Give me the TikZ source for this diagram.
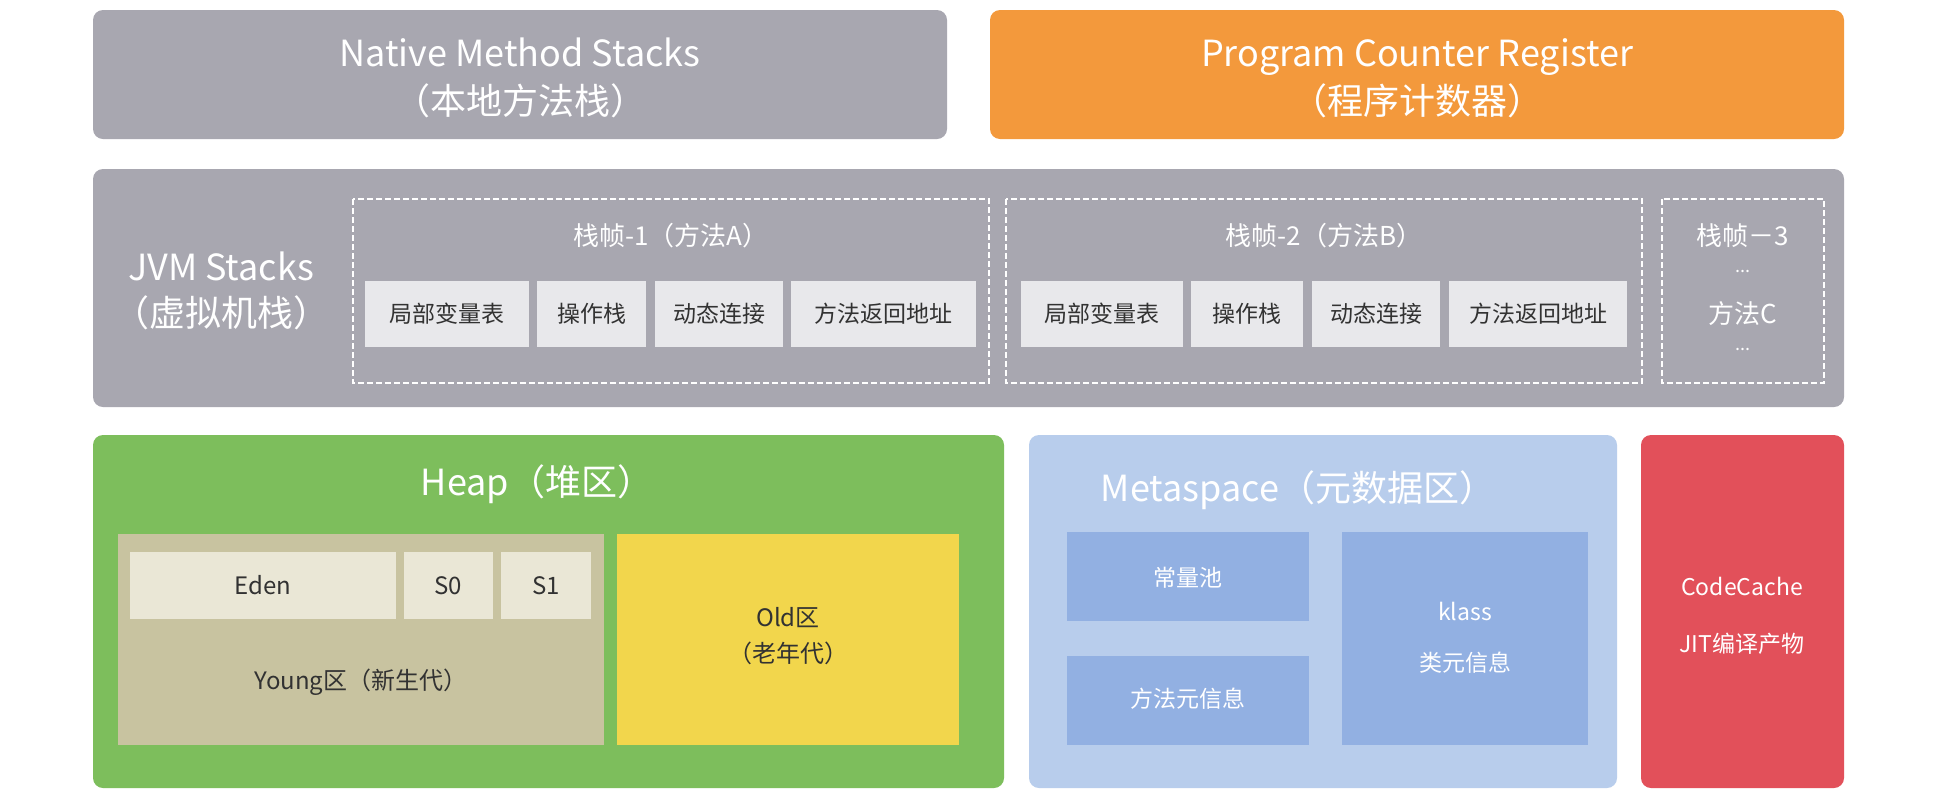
\documentclass[tikz,border=0pt]{standalone}
\usepackage{fontspec}
\setmainfont{Noto Sans CJK SC}[Scale=1]
\definecolor{gbox}{RGB}{168,167,176}
\definecolor{obox}{RGB}{243,153,60}
\definecolor{cellc}{RGB}{232,232,235}
\definecolor{heapc}{RGB}{125,190,92}
\definecolor{youngc}{RGB}{200,195,160}
\definecolor{edenc}{RGB}{234,231,214}
\definecolor{oldc}{RGB}{242,214,76}
\definecolor{metac}{RGB}{184,205,236}
\definecolor{metain}{RGB}{146,176,226}
\definecolor{codec}{RGB}{226,80,90}
\definecolor{darktxt}{RGB}{50,50,50}
\tikzset{
  framebox/.style={draw=white, dashed, dash pattern=on 6pt off 3pt, line width=1.8pt, inner sep=0pt},
  cellbox/.style={inner sep=1pt, text height=19.5pt, text depth=2.3pt, text=darktxt, font=\fontsize{23}{26}\selectfont},
  bigt/.style={inner sep=1pt, text height=30.6pt, text depth=3.6pt, text=white, font=\fontsize{36}{44}\selectfont},
  midt/.style={inner sep=1pt, text height=22.1pt, text depth=2.6pt, text=white, font=\fontsize{26}{32}\selectfont},
  dotst/.style={inner sep=0pt, text=white, font=\fontsize{18}{18}\selectfont},
  smt/.style={inner sep=1pt, text height=19.5pt, text depth=2.3pt, text=white, font=\fontsize{23}{30}\selectfont},
  darkt/.style={inner sep=1pt, text height=20.4pt, text depth=2.4pt, text=darktxt, font=\fontsize{24}{32}\selectfont},
}
\begin{document}
\begin{tikzpicture}[x=1pt,y=-1pt]
\useasboundingbox (0,0) rectangle (1948,796);
\fill[white] (0,0) rectangle (1948,796);
% top row
\fill[gbox, rounded corners=10pt] (93,10) rectangle (947,139);
\node[bigt] (nms) at (520,53) {Native Method Stacks};
\node[bigt] (nmsc) at (520,101) {（本地方法栈）};
\fill[obox, rounded corners=10pt] (990,10) rectangle (1844,139);
\node[bigt] (pcr) at (1417,53) {Program Counter Register};
\node[bigt] (pcrc) at (1417,101) {（程序计数器）};
% JVM stacks
\fill[gbox, rounded corners=10pt] (93,169) rectangle (1844,407);
\node[bigt] (jvm) at (221,267) {JVM Stacks};
\node[bigt] (jvmc) at (221,313) {（虚拟机栈）};
\draw[framebox] (353,199) rectangle (989,383);
\node[midt] (f1) at (671,236) {栈帧-1（方法A）};
\draw[framebox] (1006,199) rectangle (1642,383);
\node[midt] (f2) at (1324,236) {栈帧-2（方法B）};
\draw[framebox] (1662,199) rectangle (1824,383);
\node[midt] (f3) at (1743,236) {栈帧－3};
\node[dotst] (d1) at (1743,271) {...};
\node[midt] (f3m) at (1743,314) {方法C};
\node[dotst] (d2) at (1743,349) {...};
% cells frame 1
\fill[cellc] (365,281) rectangle (529,347); \node[cellbox] (a1) at (447,314) {局部变量表};
\fill[cellc] (537,281) rectangle (646,347); \node[cellbox] (a2) at (591.5,314) {操作栈};
\fill[cellc] (655,281) rectangle (783,347); \node[cellbox] (a3) at (719,314) {动态连接};
\fill[cellc] (791,281) rectangle (976,347); \node[cellbox] (a4) at (883.5,314) {方法返回地址};
% cells frame 2
\fill[cellc] (1021,281) rectangle (1183,347); \node[cellbox] (b1) at (1102,314) {局部变量表};
\fill[cellc] (1191,281) rectangle (1303,347); \node[cellbox] (b2) at (1247,314) {操作栈};
\fill[cellc] (1312,281) rectangle (1440,347); \node[cellbox] (b3) at (1376,314) {动态连接};
\fill[cellc] (1449,281) rectangle (1627,347); \node[cellbox] (b4) at (1538,314) {方法返回地址};
% Heap
\fill[heapc, rounded corners=10pt] (93,435) rectangle (1004,788);
\node[bigt] (heap) at (537,482) {Heap（堆区）};
\fill[youngc] (118,534) rectangle (604,745);
\fill[edenc] (130,552) rectangle (396,619);
\fill[edenc] (404,552) rectangle (493,619);
\fill[edenc] (501,552) rectangle (591,619);
\node[darkt] (eden) at (263,585) {Eden};
\node[darkt] (s0) at (448.5,585) {S0};
\node[darkt] (s1) at (546,585) {S1};
\node[darkt] (young) at (361,680) {Young区（新生代）};
\fill[oldc] (617,534) rectangle (959,745);
\node[darkt] (old) at (788,617) {Old区};
\node[darkt] (oldc2) at (788,653) {（老年代）};
% Metaspace
\fill[metac, rounded corners=10pt] (1029,435) rectangle (1617,788);
\node[bigt] (meta) at (1298,488) {Metaspace（元数据区）};
\fill[metain] (1067,532) rectangle (1309,621);
\node[smt] (cp) at (1188,578) {常量池};
\fill[metain] (1067,656) rectangle (1309,745);
\node[smt] (mm) at (1188,699) {方法元信息};
\fill[metain] (1342,532) rectangle (1588,745);
\node[smt] (klass) at (1465,612) {klass};
\node[smt] (klassc) at (1465,663) {类元信息};
% CodeCache
\fill[codec, rounded corners=10pt] (1641,435) rectangle (1844,788);
\node[smt] (cc) at (1742,587) {CodeCache};
\node[smt] (jit) at (1742,644) {JIT编译产物};
\end{tikzpicture}
\end{document}
